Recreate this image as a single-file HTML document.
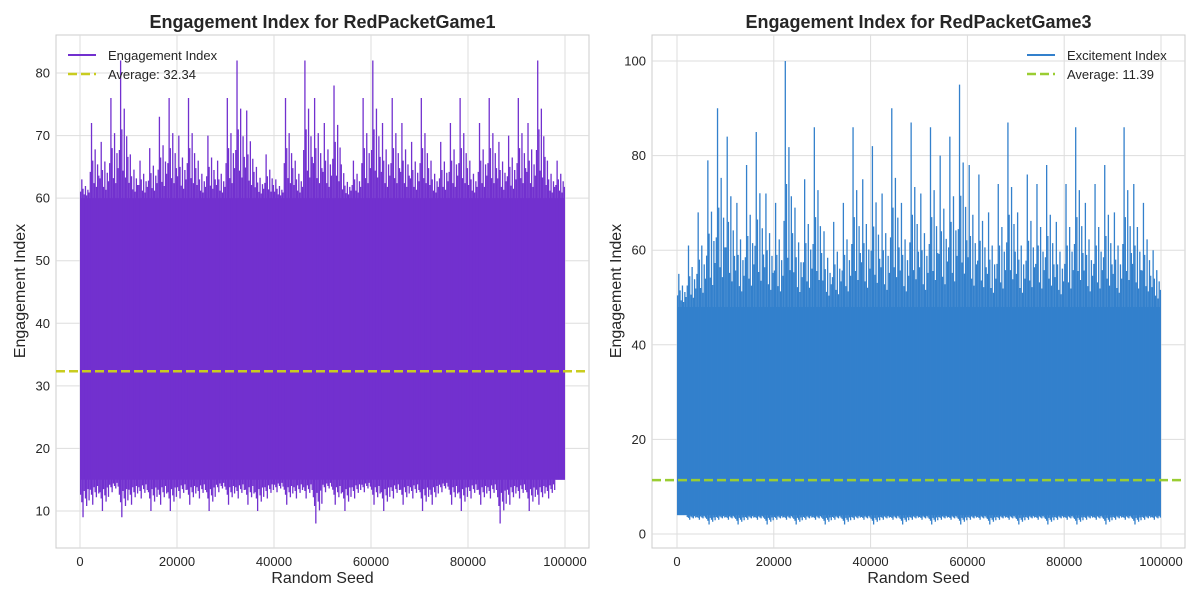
<!DOCTYPE html>
<html><head><meta charset="utf-8"><style>
body{margin:0;background:#fff;font-family:"Liberation Sans",sans-serif}
svg text{font-family:"Liberation Sans",sans-serif;fill:#262626}
</style></head><body>
<svg id="c" width="1200" height="600"></svg>
<script>
const xTicks=[0,20000,40000,60000,80000,100000];
const leftYTicks=[10,20,30,40,50,60,70,80];
const rightYTicks=[0,20,40,60,80,100];
const leftMax=[63,72,69,76,82,67,66,68,73,76,70,76,66,70,66,76,82,74,65,67,63,76,66,82,76,72,78,64,66,76,82,72,76,72,69,76,66,69,72,76,66,72,76,69,70,76,72,82,66,66];
const leftMin=[9,11,10,13,9,11,12,10,11,10,12,11,12,10,13,11,12,11,10,12,13,11,12,12,8,13,11,10,12,13,11,10,12,11,12,10,11,13,11,10,12,11,12,8,11,12,10,11,12,15];
const rightMax=[55,61,68,79,90,84,70,78,85,72,70,100,69,75,86,64,66,70,86,75,82,72,90,70,87,72,86,80,84,95,78,76,68,74,87,68,76,74,78,66,74,86,70,74,78,68,86,74,70,60];
const rightMin=[4,3,3,2,3,3,2,3,3,2,3,3,2,3,3,2,3,2,3,3,2,3,3,2,3,3,2,3,3,2,3,3,2,3,3,2,3,3,2,3,3,2,3,3,2,3,3,2,3,3];
const leftAvg=32.34, rightAvg=11.39;
const svg=document.getElementById('c');
const NS='http://www.w3.org/2000/svg';
function mk(t,a,p){const e=document.createElementNS(NS,t);for(const k in a)e.setAttribute(k,a[k]);(p||svg).appendChild(e);return e;}
const hiF=[0.35,1,0.5,0.2,0.65,0.15,0.45,0.3];
const loF=[0.4,0.6,1,0.3,0.5,0.7,0.25,0.55];
function panel(o){
  const g=mk('g',{});
  
  
  const X=v=>o.x0+(v/100000)*(o.x1-o.x0);
  const Y=v=>o.yA+(v-o.vA)*(o.yB-o.yA)/(o.vB-o.vA);
  mk('rect',{x:o.L,y:35,width:o.R-o.L,height:513,fill:'#fff',stroke:'#ccc','stroke-width':1},g);
  xTicks.forEach(t=>{mk('line',{x1:X(t),x2:X(t),y1:35,y2:548,stroke:'#ddd'},g);
    const tx=mk('text',{x:X(t),y:566,'text-anchor':'middle','font-size':13},g);tx.textContent=t;
    });
  o.yt.forEach(t=>{mk('line',{x1:o.L,x2:o.R,y1:Y(t),y2:Y(t),stroke:'#ddd'},g);
    const tx=mk('text',{x:o.L-6,y:Y(t)+4.5,'text-anchor':'end','font-size':13},g);tx.textContent=t;
    });
  const n=o.max.length, step=100000/n, k=hiF.length;
  mk('rect',{x:X(0),y:Y(o.coreHi),width:X(100000)-X(0),height:Y(o.coreLo)-Y(o.coreHi),fill:o.color},g);
  for(let i=0;i<n;i++){
    for(let j=0;j<k;j++){
      const xv=X(i*step+j*step/k+step/(2*k));
      const hi=o.coreHi+(o.max[i]-o.coreHi)*hiF[j];
      const lo=o.coreLo-(o.coreLo-o.min[i])*loF[j];
      const l=mk('line',{x1:xv,x2:xv,y1:Y(lo),y2:Y(hi),stroke:o.color,'stroke-width':1.3},g);
      
    }
  }
  const av=mk('line',{x1:o.L,x2:o.R,y1:Y(o.avg),y2:Y(o.avg),stroke:o.avgColor,'stroke-width':2.5,'stroke-dasharray':'9,4'},g);
  
  const ti=mk('text',{x:(o.L+o.R)/2,y:28,'text-anchor':'middle','font-size':18,'font-weight':'bold'},g);ti.textContent=o.title;
  
  const xl=mk('text',{x:(o.L+o.R)/2,y:583,'text-anchor':'middle','font-size':16},g);xl.textContent='Random Seed';
  
  const yl=mk('text',{x:0,y:0,'text-anchor':'middle','font-size':16,transform:`translate(${o.L-31},${291}) rotate(-90)`},g);yl.textContent='Engagement Index';
  
  const lg=mk('g',{},g);
  mk('line',{x1:o.lx,x2:o.lx+28,y1:55,y2:55,stroke:o.color,'stroke-width':2},lg);
  mk('line',{x1:o.lx,x2:o.lx+28,y1:74,y2:74,stroke:o.avgColor,'stroke-width':2.5,'stroke-dasharray':'9,4'},lg);
  const a=mk('text',{x:o.lx+40,y:60,'font-size':13},lg);a.textContent=o.leg;
  
  const b=mk('text',{x:o.lx+40,y:79,'font-size':13},lg);b.textContent='Average: '+o.avg.toFixed(2);
  
}
panel({name:'left-panel',L:56,R:589,x0:80,x1:565,yA:511,vA:10,yB:73,vB:80,yt:leftYTicks,max:leftMax,min:leftMin,coreHi:60,coreLo:15,color:'#7230cf',avg:leftAvg,avgColor:'#c9cc1f',title:'Engagement Index for RedPacketGame1',leg:'Engagement Index',lx:68});
panel({name:'right-panel',L:652,R:1185,x0:677,x1:1161,yA:534,vA:0,yB:61,vB:100,yt:rightYTicks,max:rightMax,min:rightMin,coreHi:48,coreLo:4,color:'#3380cc',avg:rightAvg,avgColor:'#9acd32',title:'Engagement Index for RedPacketGame3',leg:'Excitement Index',lx:1027});
</script>
</body></html>
